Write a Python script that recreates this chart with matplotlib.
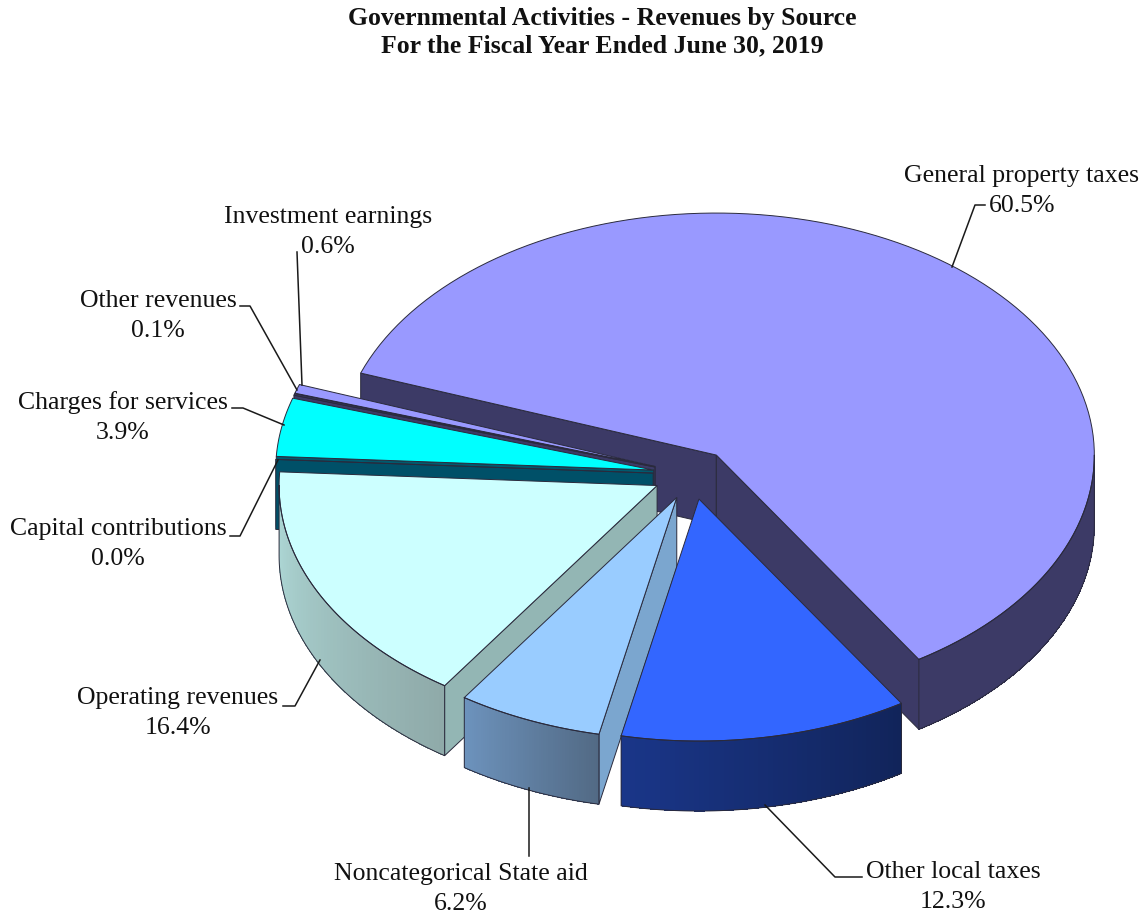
import numpy as np
import matplotlib.pyplot as plt
from matplotlib.colors import to_rgb

plt.rcParams['font.family'] = ['Liberation Serif', 'DejaVu Serif']

# Revenue shares, clockwise from the first slice
sources = ['General property taxes', 'Other local taxes', 'Noncategorical State aid',
           'Operating revenues', 'Capital contributions', 'Charges for services',
           'Other revenues', 'Investment earnings']
shares = [60.5, 12.3, 6.2, 16.4, 0.0, 3.9, 0.1, 0.6]

top_colors = ['#9999ff', '#3366ff', '#99ccff', '#ccffff', '#005a6e', '#00ffff', '#3c3a66', '#9999ff']
cut_colors = ['#3c3a66', '#14296a', '#7ba6cf', '#93b6b4', '#005068', '#005a6e', '#3c3a66', '#3c3a66']
side_left = ['#3c3a66', '#1a3689', '#6d93bd', '#afdad8', '#005068', '#005a6e', '#3c3a66', '#3c3a66']
side_right = ['#3c3a66', '#11245a', '#526a85', '#8faaa9', '#005068', '#005a6e', '#3c3a66', '#3c3a66']

# Label text centres and leader polylines
label_pos = [(1022, 176), (953, 872), (461, 874), (178, 698), (118, 529), (123, 403), (158, 301), (328, 217)]
leaders = [[(952, 267), (975, 205), (985, 205)],
           [(765, 805), (835, 877), (862, 877)],
           [(529, 788), (529, 856)],
           [(320, 660), (295, 706), (283, 706)],
           [(278, 460), (240, 536), (230, 536)],
           [(284, 425), (243, 408), (232, 408)],
           [(297, 390), (250, 306), (240, 306)],
           [(302, 385), (297, 252)]]

# Pie geometry, in pixels
cx, cy = 692, 474.5
rx, ry = 378, 242
depth = 70
explode = 0.103
start_angle = 160.2
edge = '#2a2a3c'
lw = 0.7

fig = plt.figure(figsize=(11.42, 9.13), dpi=100)
ax = fig.add_axes([0, 0, 1, 1])
ax.set_xlim(0, 1142)
ax.set_ylim(913, 0)
ax.axis('off')


def rim(ox, oy, t):
    t = np.radians(t)
    return ox + rx * np.cos(t), oy - ry * np.sin(t)


def draw_slice(i, a0, a1):
    # a0 is the counter-clockwise edge, a1 the clockwise edge
    mid = np.radians((a0 + a1) / 2)
    ox = cx + explode * rx * np.cos(mid)
    oy = cy - explode * ry * np.sin(mid)

    # cut faces that look towards the viewer
    for ang, visible in ((a0, np.cos(np.radians(a0)) < 0), (a1, np.cos(np.radians(a1)) > 0)):
        if visible:
            px, py = rim(ox, oy, ang)
            ax.fill([ox, px, px, ox], [oy, py, py + depth, oy + depth],
                    facecolor=cut_colors[i], edgecolor=edge, linewidth=lw)

    # outer wall, only the lower half of the rim can be seen
    lo = max(a1, -180)
    hi = min(a0, 0)
    if hi > lo:
        ts = np.linspace(lo, hi, 60)
        xs, ys = rim(ox, oy, ts)
        c0 = np.array(to_rgb(side_left[i]))
        c1 = np.array(to_rgb(side_right[i]))
        # each band runs under the next one so no seams show
        for k in range(len(ts) - 1):
            f = (k + 0.5) / (len(ts) - 1)
            col = c0 + (c1 - c0) * f
            j = min(k + 2, len(ts) - 1)
            seg_x = xs[k:j + 1]
            seg_y = ys[k:j + 1]
            ax.fill(np.r_[seg_x, seg_x[::-1]], np.r_[seg_y, seg_y[::-1] + depth],
                    facecolor=col, edgecolor='none', antialiased=False)
        ax.plot(np.r_[xs, xs[::-1], xs[0]],
                np.r_[ys, ys[::-1] + depth, ys[0]], color=edge, lw=lw)

    # top face
    ts = np.linspace(a0, a1, 120)
    xs, ys = rim(ox, oy, ts)
    ax.fill(np.r_[ox, xs], np.r_[oy, ys], facecolor=top_colors[i], edgecolor=edge, linewidth=lw)


per_unit = 360 / sum(shares)
edges = start_angle - np.cumsum([0] + shares) * per_unit

# back to front: the big slice, then round the left side, then the front slices
for i in [0, 7, 6, 5, 4, 3, 2, 1]:
    draw_slice(i, edges[i], edges[i + 1])

for path in leaders:
    ax.plot([p[0] for p in path], [p[1] for p in path], color='#1a1a1a', lw=1.1)

for name, share, (x, y) in zip(sources, shares, label_pos):
    ax.text(x, y, name, ha='center', va='center', fontsize=18.5, color='#111111')
    ax.text(x, y + 30, f'{share:.1f}%', ha='center', va='center', fontsize=18.5, color='#111111')

ax.text(602, 19, 'Governmental Activities - Revenues by Source', ha='center', va='center',
        fontsize=18.5, fontweight='bold', color='#111111')
ax.text(602, 46, 'For the Fiscal Year Ended June 30, 2019', ha='center', va='center',
        fontsize=18.5, fontweight='bold', color='#111111')

fig.savefig('out.png', dpi=100)
